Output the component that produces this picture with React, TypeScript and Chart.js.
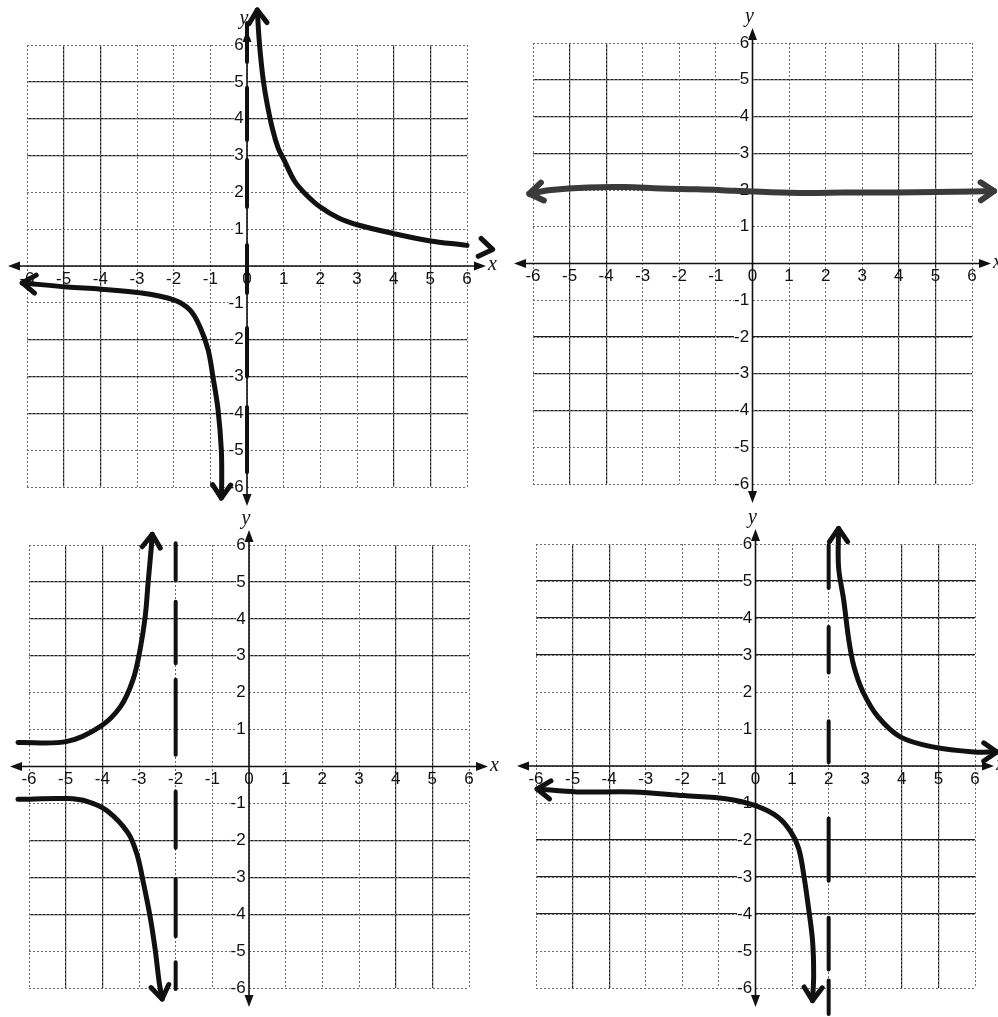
import React, { useEffect, useRef } from "react";
import { Chart, registerables } from "chart.js";

Chart.register(...registerables);

// ---------- data ----------
const AXIS_MIN = -6;
const AXIS_MAX = 6;
const SOLID_H = [5, 4, 3, -2, -3, -4];
const SOLID_V = [-5, -4, 4, 5];

// Panel 1 (top-left)
const P1_RIGHT: number[][] = [
  [0.28, 6.95], [0.32, 6.3], [0.37, 5.7], [0.45, 5.0], [0.55, 4.4], [0.7, 3.7],
  [0.85, 3.2], [1.0, 2.9], [1.3, 2.3], [1.6, 1.95], [2.0, 1.6], [2.5, 1.3],
  [3.0, 1.12], [4.0, 0.88], [5.0, 0.68], [6.0, 0.56], [6.7, 0.45],
];
const P1_LEFT: number[][] = [
  [-6.13, -0.46], [-4.9, -0.57], [-4.0, -0.63], [-2.9, -0.73], [-2.0, -0.92],
  [-1.55, -1.2], [-1.28, -1.66], [-1.06, -2.28], [-0.93, -3.0], [-0.79, -3.9],
  [-0.7, -5.0], [-0.69, -5.9], [-0.7, -6.3],
];
const P1_ASYM_X = 0;
const P1_ASYM_DASHES: number[][] = [
  [6.6, 5.54], [4.84, 3.42], [2.88, 1.6], [0.57, -0.73], [-1.68, -3.0], [-3.83, -5.6],
];

// Panel 2 (top-right)
const P2_LINE: number[][] = [
  [-6.1, 1.9], [-5.5, 2.0], [-4.5, 2.07], [-3.5, 2.08], [-2.5, 2.04], [-1.5, 2.02],
  [-0.5, 1.98], [0.5, 1.94], [1.5, 1.92], [2.5, 1.93], [3.5, 1.93], [4.5, 1.94],
  [5.5, 1.95], [6.6, 1.97],
];

// Panel 3 (bottom-left)
const P3_UPPER: number[][] = [
  [-6.3, 0.65], [-4.96, 0.68], [-4.06, 1.08], [-3.5, 1.63], [-3.16, 2.36],
  [-2.97, 3.17], [-2.83, 4.07], [-2.75, 5.0], [-2.67, 5.88], [-2.64, 6.29],
];
const P3_LOWER: number[][] = [
  [-6.3, -0.89], [-4.96, -0.87], [-4.4, -0.95], [-3.87, -1.2], [-3.3, -1.8],
  [-3.05, -2.4], [-2.89, -3.1], [-2.7, -4.05], [-2.56, -4.95], [-2.45, -5.84], [-2.37, -6.3],
];
const P3_ASYM_X = -2;
const P3_ASYM_DASHES: number[][] = [
  [6.05, 5.05], [4.46, 2.8], [2.35, 0.32], [-0.68, -2.2], [-3.05, -4.6], [-5.3, -6.03],
];

// Panel 4 (bottom-right)
const P4_RIGHT: number[][] = [
  [2.27, 6.42], [2.27, 5.38], [2.41, 4.49], [2.55, 3.41], [2.69, 2.69], [2.93, 2.02],
  [3.34, 1.34], [3.97, 0.78], [4.88, 0.51], [5.97, 0.38], [6.6, 0.38],
];
const P4_LEFT: number[][] = [
  [-5.97, -0.62], [-4.88, -0.7], [-3.34, -0.7], [-1.97, -0.8], [-0.77, -0.89],
  [0, -1.07], [0.6, -1.37], [0.96, -1.77], [1.18, -2.23], [1.32, -2.95],
  [1.45, -3.84], [1.56, -4.73], [1.59, -5.65], [1.56, -6.34],
];
const P4_ASYM_X = 2;
const P4_ASYM_DASHES: number[][] = [
  [5.97, 4.81], [3.76, 2.53], [1.21, 0.1], [-1.42, -3.1], [-4.1, -5.5], [-5.8, -6.7],
];

// ---------- layout / style ----------
const W = 998;
const H = 1017;
const AXIS_EXT = 19;
const INK = "#111";

type Curve = { pts: number[][]; start: boolean; end: boolean; width: number; color: string };
type Panel = {
  pad: { left: number; top: number; right: number; bottom: number };
  curves: Curve[];
  asym?: { x: number; dashes: number[][] };
};

const PANELS: Panel[] = [
  {
    pad: { left: 27, top: 45, right: W - 467, bottom: H - 487 },
    curves: [
      { pts: P1_RIGHT, start: true, end: true, width: 5, color: INK },
      { pts: P1_LEFT, start: true, end: true, width: 5, color: INK },
    ],
    asym: { x: P1_ASYM_X, dashes: P1_ASYM_DASHES },
  },
  {
    pad: { left: 533, top: 43, right: W - 972, bottom: H - 484 },
    curves: [{ pts: P2_LINE, start: true, end: true, width: 6, color: "#3a3a3a" }],
  },
  {
    pad: { left: 29, top: 545, right: W - 469, bottom: H - 988 },
    curves: [
      { pts: P3_UPPER, start: false, end: true, width: 5, color: INK },
      { pts: P3_LOWER, start: false, end: true, width: 5, color: INK },
    ],
    asym: { x: P3_ASYM_X, dashes: P3_ASYM_DASHES },
  },
  {
    pad: { left: 536, top: 544, right: W - 975, bottom: H - 988 },
    curves: [
      { pts: P4_RIGHT, start: true, end: true, width: 5, color: INK },
      { pts: P4_LEFT, start: true, end: true, width: 5, color: INK },
    ],
    asym: { x: P4_ASYM_X, dashes: P4_ASYM_DASHES },
  },
];

const TICK_FONT = { family: '"Liberation Sans", Arial, sans-serif', size: 17 };

const axesPlugin = {
  id: "axesArrows",
  beforeDatasetsDraw(chart: any) {
    const { ctx } = chart;
    const xs = chart.scales.x;
    const ys = chart.scales.y;
    const x0 = xs.getPixelForValue(0);
    const y0 = ys.getPixelForValue(0);
    const left = xs.getPixelForValue(AXIS_MIN) - AXIS_EXT;
    const right = xs.getPixelForValue(AXIS_MAX) + AXIS_EXT;
    const top = ys.getPixelForValue(AXIS_MAX) - AXIS_EXT + 4;
    const bottom = ys.getPixelForValue(AXIS_MIN) + AXIS_EXT;
    ctx.save();
    ctx.strokeStyle = INK;
    ctx.fillStyle = INK;
    ctx.lineWidth = 1.6;
    ctx.beginPath();
    ctx.moveTo(left + 4, y0);
    ctx.lineTo(right - 4, y0);
    ctx.moveTo(x0, top + 4);
    ctx.lineTo(x0, bottom - 4);
    ctx.stroke();
    const tri = (tx: number, ty: number, dx: number, dy: number) => {
      const L = 12, Wd = 4.5;
      const bx = tx - dx * L, by = ty - dy * L;
      ctx.beginPath();
      ctx.moveTo(tx, ty);
      ctx.lineTo(bx - dy * Wd, by + dx * Wd);
      ctx.lineTo(bx + dy * Wd, by - dx * Wd);
      ctx.closePath();
      ctx.fill();
    };
    tri(left, y0, -1, 0);
    tri(right, y0, 1, 0);
    tri(x0, top, 0, -1);
    tri(x0, bottom, 0, 1);
    ctx.font = 'italic 20px "Liberation Serif", "DejaVu Serif", serif';
    ctx.textAlign = "left";
    ctx.textBaseline = "middle";
    ctx.fillText("x", right + 2, y0 - 1);
    ctx.textAlign = "center";
    ctx.textBaseline = "bottom";
    ctx.fillText("y", x0 - 3, top - 1);
    ctx.restore();
  },
  afterDatasetsDraw(chart: any) {
    const { ctx } = chart;
    chart.data.datasets.forEach((ds: any, i: number) => {
      if (!ds.arrowStart && !ds.arrowEnd) return;
      const pts = chart.getDatasetMeta(i).data;
      const n = pts.length;
      if (n < 2) return;
      const draw = (tip: any, prev: any) => {
        const ang = Math.atan2(tip.y - prev.y, tip.x - prev.x);
        const len = 16;
        ctx.save();
        ctx.strokeStyle = ds.borderColor;
        ctx.lineWidth = ds.borderWidth;
        ctx.lineCap = "round";
        ctx.lineJoin = "round";
        ctx.beginPath();
        ctx.moveTo(tip.x + len * Math.cos(ang + Math.PI - 0.6), tip.y + len * Math.sin(ang + Math.PI - 0.6));
        ctx.lineTo(tip.x, tip.y);
        ctx.lineTo(tip.x + len * Math.cos(ang + Math.PI + 0.6), tip.y + len * Math.sin(ang + Math.PI + 0.6));
        ctx.stroke();
        ctx.restore();
      };
      if (ds.arrowEnd) draw(pts[n - 1], pts[n - 2]);
      if (ds.arrowStart) draw(pts[0], pts[1]);
    });
  },
};

function buildConfig(panel: Panel): any {
  const datasets: any[] = panel.curves.map((c) => ({
    data: c.pts.map(([x, y]) => ({ x, y })),
    borderColor: c.color,
    borderWidth: c.width,
    pointRadius: 0,
    tension: 0.35,
    fill: false,
    clip: false,
    borderCapStyle: "round",
    borderJoinStyle: "round",
    arrowStart: c.start,
    arrowEnd: c.end,
  }));
  if (panel.asym) {
    const ax = panel.asym.x;
    datasets.unshift({
      data: panel.asym.dashes.flatMap(([a, b]) => [
        { x: ax, y: a },
        { x: ax, y: b },
        { x: ax, y: null },
      ]),
      borderColor: INK,
      borderWidth: 4,
      pointRadius: 0,
      tension: 0,
      spanGaps: false,
      fill: false,
      clip: false,
      borderCapStyle: "round",
    });
  }
  const mainScale = (axis: "x" | "y") => ({
    type: "linear",
    axis,
    min: AXIS_MIN,
    max: AXIS_MAX,
    position: axis === "x" ? { y: 0 } : { x: 0 },
    ticks: {
      stepSize: 1,
      autoSkip: false,
      maxRotation: 0,
      minRotation: 0,
      padding: 3,
      font: TICK_FONT,
      color: INK,
      showLabelBackdrop: axis === "y",
      backdropColor: "#ffffff",
      backdropPadding: 0,
      callback: (v: number) => (axis === "y" ? (v === 0 ? "" : String(v) + "\u2009") : String(v)),
    },
    grid: { color: "#6a6a6a", lineWidth: 1, drawTicks: false },
    border: { display: false, dash: [2, 2] },
  });
  const solidScale = (axis: "x" | "y", list: number[]) => ({
    type: "linear",
    axis,
    min: AXIS_MIN,
    max: AXIS_MAX,
    position: axis === "x" ? { y: 0 } : { x: 0 },
    ticks: { display: false, stepSize: 1, autoSkip: false },
    grid: {
      color: (ctx: any) => (ctx.tick && list.includes(ctx.tick.value) ? "#1c1c1c" : "rgba(0,0,0,0)"),
      lineWidth: 1.2,
      drawTicks: false,
    },
    border: { display: false },
  });
  return {
    type: "line",
    data: { datasets },
    options: {
      responsive: false,
      animation: false,
      events: [],
      parsing: true,
      layout: { padding: panel.pad },
      plugins: { legend: { display: false }, tooltip: { enabled: false }, title: { display: false } },
      scales: {
        xs: solidScale("x", SOLID_V),
        ys: solidScale("y", SOLID_H),
        x: mainScale("x"),
        y: mainScale("y"),
      },
    },
    plugins: [axesPlugin],
  };
}

function PanelChart({ panel }: { panel: Panel }) {
  const ref = useRef<HTMLCanvasElement>(null);
  useEffect(() => {
    const chart = new Chart(ref.current as HTMLCanvasElement, buildConfig(panel));
    return () => chart.destroy();
  }, [panel]);
  return (
    <canvas
      ref={ref}
      width={W}
      height={H}
      style={{ position: "absolute", left: 0, top: 0, width: W, height: H }}
    />
  );
}

export default function App() {
  return (
    <div style={{ position: "absolute", left: 0, top: 0, width: W, height: H, background: "#fff", overflow: "hidden" }}>
      {PANELS.map((p, i) => (
        <PanelChart key={i} panel={p} />
      ))}
    </div>
  );
}
